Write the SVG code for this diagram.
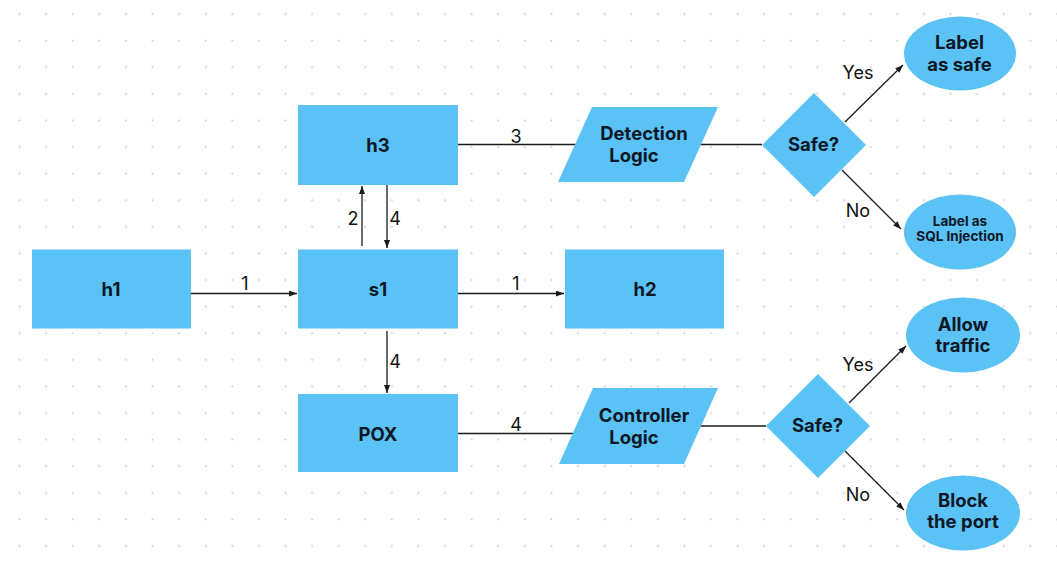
<svg xmlns="http://www.w3.org/2000/svg" width="1057" height="564" viewBox="0 0 1057 564">
<style>
.node{fill:#5bc2f5;}
.lbl{font-family:Inter,"Liberation Sans",sans-serif;font-weight:700;font-size:18.5px;fill:#0e1726;text-anchor:middle;}
.sm{font-size:13.5px;}
.edge{fill:none;stroke:#1a1a1a;stroke-width:1.3;}
.elbl{font-family:Inter,"Liberation Sans",sans-serif;font-weight:400;font-size:18px;fill:#111;text-anchor:middle;}
</style>
<defs>
<pattern id="dots" x="6.2" y="0.7" width="26.6" height="26.6" patternUnits="userSpaceOnUse">
<circle cx="13.3" cy="13.3" r="1" fill="#c8c8c8"/>
</pattern>
<marker id="arr" markerWidth="9" markerHeight="7" refX="8" refY="3" orient="auto" markerUnits="userSpaceOnUse">
<path d="M0,0 L8,3 L0,6 z" fill="#1a1a1a"/>
</marker>
</defs>
<rect width="1057" height="564" fill="#ffffff"/>
<rect width="1057" height="564" fill="url(#dots)"/>

<g id="connectors">
<line class="edge" x1="191" y1="293.5" x2="297" y2="293.5" marker-end="url(#arr)"/>
<line class="edge" x1="458" y1="293.5" x2="564" y2="293.5" marker-end="url(#arr)"/>
<line class="edge" x1="362" y1="246" x2="362" y2="186" marker-end="url(#arr)"/>
<line class="edge" x1="387" y1="185" x2="387" y2="248" marker-end="url(#arr)"/>
<line class="edge" x1="387" y1="331" x2="387" y2="393" marker-end="url(#arr)"/>
<line class="edge" x1="458" y1="144.5" x2="576" y2="144.5"/>
<line class="edge" x1="700" y1="144.5" x2="762" y2="144.5"/>
<line class="edge" x1="845" y1="122" x2="903" y2="65" marker-end="url(#arr)"/>
<line class="edge" x1="842" y1="170" x2="901" y2="229" marker-end="url(#arr)"/>
<line class="edge" x1="458" y1="433.5" x2="574" y2="433.5"/>
<line class="edge" x1="700" y1="426" x2="766" y2="426"/>
<line class="edge" x1="849" y1="403" x2="906" y2="346" marker-end="url(#arr)"/>
<line class="edge" x1="845" y1="451" x2="904" y2="510" marker-end="url(#arr)"/>
<text class="elbl" x="245" y="289.5">1</text>
<text class="elbl" x="516" y="289.5">1</text>
<text class="elbl" x="353" y="225">2</text>
<text class="elbl" x="395" y="225">4</text>
<text class="elbl" x="395" y="367.5">4</text>
<text class="elbl" x="516" y="142.5">3</text>
<text class="elbl" x="516" y="431">4</text>
<text class="elbl" x="858" y="79">Yes</text>
<text class="elbl" x="858" y="217">No</text>
<text class="elbl" x="858" y="371">Yes</text>
<text class="elbl" x="858" y="501">No</text>
</g>

<g id="h1">
<rect class="node" x="32" y="249.5" width="159" height="79"/>
<text class="lbl" x="111" y="296">h1</text>
</g>
<g id="s1">
<rect class="node" x="298" y="249.5" width="160" height="79"/>
<text class="lbl" x="378" y="296">s1</text>
</g>
<g id="h2">
<rect class="node" x="565" y="249.5" width="159" height="79"/>
<text class="lbl" x="645" y="296">h2</text>
</g>
<g id="h3">
<rect class="node" x="298" y="105" width="160" height="80"/>
<text class="lbl" x="378" y="151.5">h3</text>
</g>
<g id="pox">
<rect class="node" x="298" y="394" width="160" height="78"/>
<text class="lbl" x="378" y="440.5">POX</text>
</g>
<g id="detection">
<polygon class="node" points="592,107 718,107 684,182 558,182"/>
<text class="lbl" x="644" y="140">Detection</text>
<text class="lbl" x="634" y="162">Logic</text>
</g>
<g id="controller">
<polygon class="node" points="593,388 718,388 684,464 559,464"/>
<text class="lbl" x="644" y="422">Controller</text>
<text class="lbl" x="634" y="443.5">Logic</text>
</g>
<g id="safe1">
<polygon class="node" points="814,93 866,145 814,197 762,145"/>
<text class="lbl" x="813.5" y="150.5">Safe?</text>
</g>
<g id="safe2">
<polygon class="node" points="818,374 870,426 818,478 766,426"/>
<text class="lbl" x="817.5" y="432">Safe?</text>
</g>
<g id="label-safe">
<ellipse class="node" cx="960" cy="53.5" rx="56" ry="37"/>
<text class="lbl" x="959.5" y="49">Label</text>
<text class="lbl" x="959.5" y="70.5">as safe</text>
</g>
<g id="label-sql">
<ellipse class="node" cx="960" cy="232" rx="56" ry="37.5"/>
<text class="lbl sm" x="960" y="226">Label as</text>
<text class="lbl sm" x="960" y="240.5">SQL Injection</text>
</g>
<g id="allow">
<ellipse class="node" cx="963" cy="335" rx="57" ry="37.5"/>
<text class="lbl" x="963" y="330.5">Allow</text>
<text class="lbl" x="963" y="352">traffic</text>
</g>
<g id="block">
<ellipse class="node" cx="963" cy="513" rx="57" ry="37.5"/>
<text class="lbl" x="963" y="506.5">Block</text>
<text class="lbl" x="963" y="528">the port</text>
</g>
</svg>
